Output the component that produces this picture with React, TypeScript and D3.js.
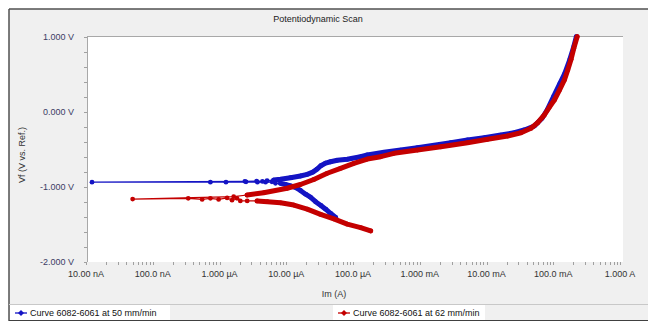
import React from "react";
import * as d3 from "d3";

// Axis ticks
const currentTicks = [1e-8, 1e-7, 1e-6, 1e-5, 1e-4, 1e-3, 1e-2, 1e-1, 1];
const currentTickLabels = [
  "10.00 nA", "100.0 nA", "1.000 µA", "10.00 µA", "100.0 µA",
  "1.000 mA", "10.00 mA", "100.0 mA", "1.000 A",
];
const potentialTicks = [1, 0, -1, -2];
const potentialTickLabels = ["1.000 V", "0.000 V", "-1.000 V", "-2.000 V"];

const chartTitle = "Potentiodynamic Scan";
const xTitle = "Im (A)";
const yTitle = "Vf (V vs. Ref.)";
const seriesNames = ["Curve 6082-6061 at 50 mm/min", "Curve 6082-6061 at 62 mm/min"];

type Pt = [number, number]; // [current (A), potential (V)]

// 50 mm/min scan
const blueCathodic: Pt[] = [
  [5.5e-5, -1.41], [4.6e-5, -1.355], [3.9e-5, -1.3], [3.3e-5, -1.25],
  [2.75e-5, -1.2], [2.3e-5, -1.14], [1.95e-5, -1.1], [1.63e-5, -1.05],
  [1.37e-5, -1.01], [1.16e-5, -0.99], [9.7e-6, -0.97], [8.2e-6, -0.955],
];
const blueRest: Pt[] = [
  [6.9e-6, -0.955], [6.1e-6, -0.935], [4.9e-6, -0.94], [3.7e-6, -0.94],
  [2.5e-6, -0.935], [1.25e-6, -0.94], [7.3e-7, -0.94], [1.23e-8, -0.94],
  [2.4e-6, -0.928], [3.6e-6, -0.925], [4.4e-6, -0.93], [5.16e-6, -0.92],
];
const blueAnodic: Pt[] = [
  [6.49e-6, -0.911], [8.18e-6, -0.901], [1.16e-5, -0.88], [1.63e-5, -0.857],
  [2.06e-5, -0.835], [2.5e-5, -0.805], [2.9e-5, -0.765], [3.3e-5, -0.72],
  [3.88e-5, -0.685], [4.61e-5, -0.667], [5.81e-5, -0.648], [8.2e-5, -0.635],
  [1.3e-4, -0.6], [1.64e-4, -0.577], [2.91e-4, -0.541], [5.19e-4, -0.511],
  [9.23e-4, -0.48], [1.64e-3, -0.448], [2.92e-3, -0.413], [5.2e-3, -0.377],
  [9.23e-3, -0.347], [1.64e-2, -0.311], [2.61e-2, -0.28], [3.68e-2, -0.244],
  [5.2e-2, -0.191], [6.8e-2, -0.088], [8.1e-2, 0.023], [0.101, 0.2],
  [0.126, 0.379], [0.149, 0.512], [0.176, 0.689], [0.203, 0.867], [0.222, 1.0],
];

// 62 mm/min scan
const redCathodic: Pt[] = [
  [1.84e-4, -1.59], [1.3e-4, -1.545], [8.2e-5, -1.5], [5.16e-5, -1.43],
  [3.27e-5, -1.37], [2.06e-5, -1.3], [1.3e-5, -1.245], [8.2e-6, -1.215],
  [5.2e-6, -1.2], [3.66e-6, -1.19],
];
const redRest: Pt[] = [
  [2.6e-6, -1.19], [2.05e-6, -1.19], [1.83e-6, -1.155], [1.54e-6, -1.18],
  [1.3e-6, -1.15], [9.7e-7, -1.17], [7.3e-7, -1.155], [5.5e-7, -1.17],
  [3.4e-7, -1.155], [5.0e-8, -1.165], [1.63e-6, -1.133],
];
const redAnodic: Pt[] = [
  [2.59e-6, -1.111], [4.59e-6, -1.08], [1.03e-5, -1.021], [1.63e-5, -0.971],
  [2.59e-5, -0.904], [4.11e-5, -0.821], [6.51e-5, -0.755], [1.03e-4, -0.688],
  [1.64e-4, -0.631], [2.6e-4, -0.6], [4.11e-4, -0.555], [9.23e-4, -0.511],
  [2.07e-3, -0.467], [5.2e-3, -0.413], [1.04e-2, -0.368], [2.07e-2, -0.324],
  [3.29e-2, -0.28], [4.64e-2, -0.221], [5.85e-2, -0.147], [7.35e-2, -0.044],
  [8.73e-2, 0.059], [0.104, 0.156], [0.124, 0.289], [0.147, 0.423],
  [0.165, 0.556], [0.185, 0.699], [0.203, 0.845], [0.228, 1.0],
];

const W = 648;
const H = 321;
const plot = { left: 87, right: 623, top: 36, bottom: 262 };
const FONT = "'Liberation Sans', Arial, sans-serif";

const x = d3.scaleLog().domain([1e-8, 1]).range([86, 620]);
const y = d3.scaleLinear().domain([-2, 1]).range([261.7, 36.7]);

const line = d3
  .line<Pt>()
  .x((d) => x(d[0]))
  .y((d) => y(d[1]));

const minorCurrentTicks: number[] = [];
currentTicks.slice(0, -1).forEach((dec) => {
  for (let k = 1; k <= 9; k++) minorCurrentTicks.push(dec * k);
});
minorCurrentTicks.push(1);
const minorPotentialTicks = d3.range(-2, 1.0001, 0.2);

const series = [
  { name: seriesNames[0], color: "#1414c4", parts: [blueCathodic, blueRest, blueAnodic] },
  { name: seriesNames[1], color: "#c40000", parts: [redCathodic, redRest, redAnodic] },
];

function Series({ color, parts }: { color: string; parts: Pt[][] }) {
  const all = parts.flat();
  const [cath, , anod] = parts;
  return (
    <g>
      <path d={line(all) || ""} fill="none" stroke={color} strokeWidth={1.2} />
      {[cath, anod].map((p, i) => (
        <path
          key={i}
          d={line(p) || ""}
          fill="none"
          stroke={color}
          strokeWidth={5}
          strokeLinecap="round"
          strokeLinejoin="round"
        />
      ))}
      {all.map((d, i) => (
        <circle key={i} cx={x(d[0])} cy={y(d[1])} r={2.4} fill={color} />
      ))}
    </g>
  );
}

function LegendItem({ x0, color, name, width }: { x0: number; color: string; name: string; width: number }) {
  const cy = 313;
  return (
    <g>
      <rect x={x0} y={305} width={width} height={15} fill="#ffffff" />
      <line x1={x0 + 5} x2={x0 + 17} y1={cy} y2={cy} stroke={color} strokeWidth={1.3} />
      <path d={`M${x0 + 11},${cy - 3} L${x0 + 14},${cy} L${x0 + 11},${cy + 3} L${x0 + 8},${cy} Z`} fill={color} />
      <text x={x0 + 20} y={cy + 3} fontSize={9} fill="#111" fontFamily={FONT}>
        {name}
      </text>
    </g>
  );
}

export default function App() {
  return (
    <svg
      width={W}
      height={H}
      style={{ position: "absolute", left: 0, top: 0, display: "block" }}
    >
      <rect x={0} y={0} width={W} height={H} fill="#ffffff" />
      {/* outer panel */}
      <rect x={9} y={9} width={W - 9} height={H - 9} fill="#f0f0f0" />
      <line x1={9} x2={W} y1={9} y2={9} stroke="#505050" strokeWidth={1.5} />
      <line x1={9} x2={9} y1={9} y2={H} stroke="#505050" strokeWidth={1.5} />
      <line x1={9} x2={W} y1={320.5} y2={320.5} stroke="#404040" strokeWidth={1} />

      <text x={318} y={22} textAnchor="middle" fontSize={9} fill="#222" fontFamily={FONT}>
        {chartTitle}
      </text>

      {/* plot area */}
      <rect x={plot.left} y={plot.top} width={plot.right - plot.left} height={plot.bottom - plot.top} fill="#ffffff" />
      <line x1={plot.left} x2={plot.right} y1={plot.top + 0.5} y2={plot.top + 0.5} stroke="#a8a8a8" />
      <line x1={plot.left + 0.5} x2={plot.left + 0.5} y1={plot.top} y2={plot.bottom} stroke="#a8a8a8" />

      {/* y ticks */}
      {minorPotentialTicks.map((v, i) => (
        <line key={i} x1={84} x2={87} y1={Math.round(y(v)) + 0.5} y2={Math.round(y(v)) + 0.5} stroke="#a0a0a0" />
      ))}
      {potentialTicks.map((v, i) => (
        <text key={i} x={74} y={y(v) + 3.5} textAnchor="end" fontSize={9} fill="#3c3c64" fontFamily={FONT}>
          {potentialTickLabels[i]}
        </text>
      ))}
      <text
        transform={`translate(25,${(plot.top + plot.bottom) / 2 + 6}) rotate(-90)`}
        textAnchor="middle"
        fontSize={9}
        fill="#333"
        fontFamily={FONT}
      >
        {yTitle}
      </text>

      {/* x ticks */}
      {minorCurrentTicks.map((c, i) => (
        <line key={i} x1={Math.round(x(c)) + 0.5} x2={Math.round(x(c)) + 0.5} y1={262} y2={265} stroke="#a0a0a0" />
      ))}
      {currentTicks.map((c, i) => (
        <text key={i} x={x(c)} y={276.5} textAnchor="middle" fontSize={9} fill="#333" fontFamily={FONT}>
          {currentTickLabels[i]}
        </text>
      ))}
      <text x={334} y={297} textAnchor="middle" fontSize={9} fill="#333" fontFamily={FONT}>
        {xTitle}
      </text>

      {/* data */}
      <g>
        {series.map((s, i) => (
          <Series key={i} color={s.color} parts={s.parts} />
        ))}
      </g>

      {/* legend strip */}
      <line x1={9} x2={W} y1={304.5} y2={304.5} stroke="#c8c8c8" />
      <LegendItem x0={10} color={series[0].color} name={series[0].name} width={160} />
      <LegendItem x0={333} color={series[1].color} name={series[1].name} width={152} />
    </svg>
  );
}
